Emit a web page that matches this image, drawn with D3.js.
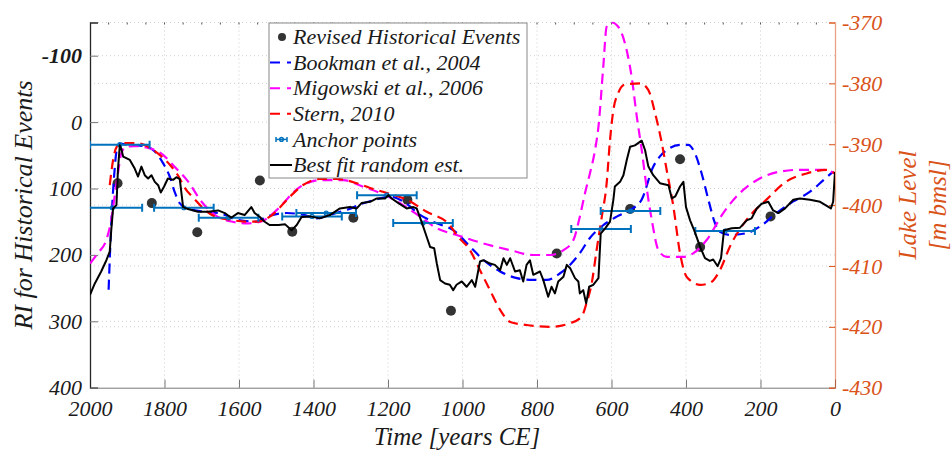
<!DOCTYPE html>
<html>
<head>
<meta charset="utf-8">
<script src="https://cdn.jsdelivr.net/npm/d3@7"></script>
<style>
  body { margin: 0; background: #fff; }
</style>
</head>
<body>
<script>
// ---- data ----
const xTicks = [2000, 1800, 1600, 1400, 1200, 1000, 800, 600, 400, 200, 0];
const riTicks = [-100, 0, 100, 200, 300, 400];
const lakeTicks = [-370, -380, -390, -400, -410, -420, -430];

// revised historical events [year, RI]
const events = [[1926, 92], [1834, 122], [1712, 166], [1544, 88], [1457, 165], [1293, 144],
  [1148, 117], [1031, 284], [747, 198], [550, 131], [416, 56], [362, 188], [173, 142]];

// anchor points [year, RI, half width in years]
const anchors = [[1920, 34, 80], [1940, 129, 80], [1748, 129, 80], [1628, 144, 80], [1404, 142, 80],
  [1366, 137, 80], [1203, 110, 80], [1106, 152, 80], [628, 161, 80], [549, 134, 80], [295, 164, 80]];

// lake level reconstructions [year, m bmsl]
const bookman = [[1950, -413.9], [1946, -407.4], [1941, -400.8], [1935, -395.0], [1928, -390.9], [1919, -389.9],
  [1898, -390.1], [1853, -390.3], [1826, -391.2], [1804, -393.1], [1786, -395.3], [1773, -397.8], [1759, -399.7],
  [1742, -400.5], [1705, -401.0], [1648, -401.4], [1606, -402.4], [1553, -402.7], [1526, -401.9], [1472, -401.3],
  [1427, -401.6], [1391, -402.2], [1356, -401.6], [1311, -400.8], [1266, -399.7], [1221, -398.9], [1195, -398.6],
  [1159, -399.4], [1114, -401.6], [1069, -403.0], [1025, -404.1], [980, -406.8], [944, -409.0], [899, -410.9],
  [854, -412.0], [810, -412.3], [774, -412.3], [738, -411.2], [711, -409.8], [685, -407.9], [658, -405.4],
  [622, -403.3], [586, -401.9], [550, -400.8], [519, -399.1], [488, -393.7], [470, -392.0], [443, -390.6],
  [416, -390.1], [394, -390.1], [376, -391.5], [358, -394.8], [340, -399.1], [322, -403.0], [309, -404.4],
  [282, -404.9], [237, -404.6], [201, -403.5], [157, -401.3], [112, -399.4], [67, -397.8], [31, -395.9], [5, -394.5]];

const migowski = [[2000, -409.6], [1979, -407.9], [1956, -405.7], [1943, -402.4], [1934, -398.6], [1925, -394.8],
  [1916, -391.5], [1903, -390.4], [1880, -390.3], [1844, -390.6], [1809, -391.5], [1773, -393.7], [1737, -396.1],
  [1701, -399.4], [1665, -401.6], [1620, -402.7], [1576, -403.0], [1540, -402.7], [1504, -401.1], [1436, -397.0],
  [1383, -395.9], [1320, -395.9], [1266, -397.0], [1221, -398.0], [1159, -400.0], [1114, -401.9], [1069, -403.8],
  [1016, -404.9], [944, -406.3], [872, -407.4], [810, -408.2], [765, -408.2], [729, -407.4], [702, -405.7],
  [685, -401.9], [671, -398.0], [658, -394.8], [644, -390.9], [635, -387.1], [622, -377.2], [613, -370.7],
  [599, -370.0], [582, -370.7], [564, -373.4], [546, -378.9], [532, -385.5], [519, -390.9], [506, -397.0],
  [492, -402.4], [474, -407.4], [452, -408.5], [407, -408.5], [380, -407.9], [344, -405.7], [300, -401.3],
  [255, -398.0], [201, -395.6], [148, -394.5], [94, -394.2], [31, -394.2], [0, -394.8]];

const stern = [[1947, -396.7], [1938, -392.6], [1928, -390.4], [1914, -389.8], [1893, -389.8], [1866, -389.9],
  [1839, -390.6], [1812, -391.8], [1785, -393.4], [1764, -395.1], [1745, -397.2], [1718, -399.1], [1691, -400.8],
  [1664, -401.9], [1624, -402.4], [1584, -402.7], [1549, -402.7], [1517, -401.9], [1463, -398.6], [1428, -396.7],
  [1383, -395.7], [1338, -395.7], [1284, -396.4], [1248, -397.2], [1203, -398.0], [1150, -399.1], [1096, -401.1],
  [1034, -403.3], [1016, -404.9], [980, -407.4], [953, -410.7], [926, -414.0], [899, -417.2], [872, -419.2],
  [828, -419.7], [765, -420.0], [711, -419.4], [680, -418.3], [667, -416.1], [653, -412.8], [640, -407.4],
  [626, -401.9], [613, -396.4], [604, -389.3], [595, -384.4], [582, -381.6], [564, -380.2], [523, -380.0],
  [501, -381.1], [483, -384.9], [465, -389.8], [452, -394.2], [434, -400.2], [416, -407.9], [398, -411.8],
  [362, -413.1], [336, -412.8], [309, -410.7], [282, -406.8], [237, -402.4], [184, -399.1], [130, -396.1],
  [76, -394.8], [23, -394.2], [0, -394.8]];

// best fit random estimate [year, RI]
const bestFit = [[2000, 260], [1987, 243], [1970, 225], [1956, 208], [1947, 195], [1943, 163], [1938, 130],
  [1929, 125], [1925, 72], [1920, 35], [1916, 40], [1911, 52], [1893, 57], [1880, 70], [1871, 82], [1862, 67],
  [1853, 80], [1844, 85], [1835, 80], [1826, 90], [1817, 95], [1810, 106], [1801, 97], [1791, 85], [1777, 87],
  [1768, 83], [1759, 86], [1750, 128], [1737, 131], [1710, 135], [1683, 135], [1656, 133], [1638, 137],
  [1621, 144], [1603, 137], [1585, 140], [1567, 128], [1558, 137], [1544, 143], [1531, 150], [1518, 155],
  [1504, 155], [1494, 155], [1476, 154], [1459, 163], [1445, 155], [1432, 143], [1409, 142], [1383, 145],
  [1356, 140], [1329, 130], [1302, 128], [1284, 130], [1271, 122], [1248, 120], [1230, 115], [1208, 115],
  [1199, 110], [1190, 115], [1172, 122], [1150, 130], [1132, 128], [1123, 130], [1110, 150], [1096, 173],
  [1087, 188], [1076, 190], [1069, 213], [1060, 238], [1047, 243], [1034, 245], [1025, 253], [1016, 245],
  [1002, 240], [989, 248], [975, 238], [966, 248], [953, 210], [944, 208], [926, 213], [913, 215], [899, 223],
  [890, 205], [881, 215], [872, 205], [859, 225], [846, 223], [837, 240], [828, 215], [819, 208], [810, 230],
  [792, 225], [783, 238], [770, 263], [761, 248], [752, 258], [743, 240], [729, 233], [720, 215], [711, 220],
  [698, 235], [689, 240], [685, 258], [676, 253], [668, 273], [660, 248], [649, 245], [635, 235], [629, 168],
  [617, 160], [604, 150], [595, 117], [591, 97], [577, 90], [568, 80], [559, 57], [550, 37], [537, 35],
  [519, 28], [510, 42], [501, 67], [488, 80], [470, 92], [447, 95], [438, 115], [429, 112], [416, 97],
  [407, 90], [400, 128], [389, 148], [378, 163], [362, 188], [349, 205], [336, 209], [327, 207], [315, 217],
  [306, 205], [298, 163], [277, 160], [255, 159], [237, 148], [224, 145], [210, 130], [197, 123], [179, 120],
  [166, 133], [152, 137], [134, 130], [112, 117], [94, 115], [67, 117], [40, 120], [11, 130], [5, 120], [0, 75]];

// ---- layout ----
const W = 951, H = 452;
const pLeft = 90, pRight = 835, pTop = 22.5, pBottom = 387.7;
const orange = "#D95319";
const serif = "'Liberation Serif', 'Times New Roman', serif";

const svg = d3.select("body").append("svg").attr("width", W).attr("height", H);

const x = d3.scaleLinear().domain([2000, 0]).range([pLeft, pRight]);
const yRI = d3.scaleLinear().domain([-150, 400]).range([pTop, pBottom]);
const yLake = d3.scaleLinear().domain([-370, -430]).range([pTop, pBottom]);

svg.append("clipPath").attr("id", "plot")
  .append("rect").attr("x", pLeft).attr("y", pTop - 1).attr("width", pRight - pLeft).attr("height", pBottom - pTop + 1);

// grid
const grid = svg.append("g").attr("stroke", "#cfcfcf").attr("stroke-width", 1).attr("stroke-dasharray", "1,3");
grid.selectAll(".gx").data(xTicks.slice(1, -1)).enter().append("line")
  .attr("x1", d => x(d)).attr("x2", d => x(d)).attr("y1", pTop).attr("y2", pBottom);
grid.selectAll(".gy").data(riTicks.slice(0, -1)).enter().append("line")
  .attr("x1", pLeft).attr("x2", pRight).attr("y1", d => yRI(d)).attr("y2", d => yRI(d));
grid.selectAll(".gr").data(lakeTicks.slice(1, -1)).enter().append("line")
  .attr("x1", pLeft).attr("x2", pRight).attr("y1", d => yLake(d)).attr("y2", d => yLake(d));
grid.append("line").attr("x1", pLeft).attr("x2", pRight).attr("y1", pTop).attr("y2", pTop);

// little top ticks every 50 years
svg.append("g").selectAll("line").data(d3.range(1950, 0, -50)).enter().append("line")
  .attr("x1", d => x(d)).attr("x2", d => x(d)).attr("y1", pTop).attr("y2", pTop + 2)
  .attr("stroke", "#555").attr("stroke-width", 1);

// axes
const fmt = d => String(d);
const gxAxis = svg.append("g").attr("transform", `translate(0,${pBottom})`)
  .call(d3.axisBottom(x).tickValues(xTicks).tickFormat(fmt).tickSize(-8).tickPadding(13));
gxAxis.select(".domain").attr("stroke", "#777");
gxAxis.selectAll(".tick line").attr("stroke", "#777");
gxAxis.selectAll("text").attr("font-size", 22).attr("fill", "#1a1a1a");

const gyAxis = svg.append("g").attr("transform", `translate(${pLeft},0)`)
  .call(d3.axisLeft(yRI).tickValues(riTicks).tickFormat(fmt).tickSize(-8).tickPadding(8));
gyAxis.select(".domain").attr("stroke", "#262626").attr("stroke-width", 1.3);
gyAxis.selectAll(".tick line").attr("stroke", "#777");
gyAxis.selectAll("text").attr("font-size", 22).attr("fill", "#1a1a1a")
  .attr("font-weight", d => d < 0 ? "bold" : "normal");

const grAxis = svg.append("g").attr("transform", `translate(${pRight},0)`)
  .call(d3.axisRight(yLake).tickValues(lakeTicks).tickFormat(fmt).tickSize(-6).tickPadding(7));
grAxis.select(".domain").attr("stroke", orange).attr("stroke-opacity", 0.55).attr("stroke-width", 1.3);
grAxis.selectAll(".tick line").attr("stroke", orange);
grAxis.selectAll("text").attr("font-size", 22).attr("fill", orange);

// axis titles
svg.append("text").attr("transform", "translate(32,205) rotate(-90)")
  .attr("text-anchor", "middle").attr("font-size", 26).attr("fill", "#1a1a1a")
  .text("RI for Historical Events");
svg.append("text").attr("x", 457).attr("y", 445).attr("text-anchor", "middle")
  .attr("font-size", 25).attr("fill", "#1a1a1a").text("Time [years CE]");
const lakeTitle = svg.append("text").attr("transform", "translate(916,205) rotate(-90)")
  .attr("text-anchor", "middle").attr("font-size", 25).attr("fill", orange);
lakeTitle.append("tspan").attr("x", 0).attr("dy", 0).text("Lake Level");
lakeTitle.append("tspan").attr("x", 0).attr("dy", 30).text("[m bmsl]");

// marks
const plot = svg.append("g").attr("clip-path", "url(#plot)");

plot.selectAll(".ev").data(events).enter().append("circle")
  .attr("cx", d => x(d[0])).attr("cy", d => yRI(d[1])).attr("r", 5).attr("fill", "#333");

const lakeLine = d3.line().x(d => x(d[0])).y(d => yLake(d[1])).curve(d3.curveMonotoneX);
const curves = [[bookman, "#0000ff"], [migowski, "#ff00ff"], [stern, "#ff0000"]];
curves.forEach(([data, c]) => {
  plot.append("path").datum(data).attr("d", lakeLine)
    .attr("fill", "none").attr("stroke", c).attr("stroke-width", 2.2).attr("stroke-dasharray", "10,6");
});

const anchorColor = "#0072BD";
const ag = plot.append("g").attr("stroke", anchorColor).attr("stroke-width", 2);
anchors.forEach(([yr, ri, hw]) => {
  const yy = yRI(ri), x0 = x(yr + hw), x1 = x(yr - hw);
  ag.append("line").attr("x1", x0).attr("x2", x1).attr("y1", yy).attr("y2", yy);
  ag.append("line").attr("x1", x0).attr("x2", x0).attr("y1", yy - 4).attr("y2", yy + 4);
  ag.append("line").attr("x1", x1).attr("x2", x1).attr("y1", yy - 4).attr("y2", yy + 4);
  ag.append("circle").attr("cx", x(yr)).attr("cy", yy).attr("r", 2).attr("fill", "none").attr("stroke-width", 1.2);
});

plot.append("path").datum(bestFit)
  .attr("d", d3.line().x(d => x(d[0])).y(d => yRI(d[1])))
  .attr("fill", "none").attr("stroke", "#000").attr("stroke-width", 2).attr("stroke-linejoin", "round");

// legend
const lg = svg.append("g");
lg.append("rect").attr("x", 269).attr("y", 23).attr("width", 258).attr("height", 155)
  .attr("fill", "#fff").attr("stroke", "#888").attr("stroke-width", 1);
const entries = ["Revised Historical Events", "Bookman et al., 2004", "Migowski et al., 2006",
  "Stern, 2010", "Anchor points", "Best fit random est."];
entries.forEach((t, i) => {
  const yy = 37 + i * 25.6;
  lg.append("text").attr("x", 293).attr("y", yy).attr("dy", "0.33em")
    .attr("font-size", 22).attr("fill", "#1a1a1a").text(t);
  if (i === 0) {
    lg.append("circle").attr("cx", 282).attr("cy", yy).attr("r", 4).attr("fill", "#333");
  } else if (i <= 3) {
    lg.append("line").attr("x1", 270).attr("x2", 291).attr("y1", yy).attr("y2", yy)
      .attr("stroke", curves[i - 1][1]).attr("stroke-width", 2).attr("stroke-dasharray", "10,7");
  } else if (i === 4) {
    const a = lg.append("g").attr("stroke", anchorColor).attr("stroke-width", 1.5);
    a.append("line").attr("x1", 276).attr("x2", 287).attr("y1", yy).attr("y2", yy);
    a.append("line").attr("x1", 276).attr("x2", 276).attr("y1", yy - 2.5).attr("y2", yy + 2.5);
    a.append("line").attr("x1", 287).attr("x2", 287).attr("y1", yy - 2.5).attr("y2", yy + 2.5);
    a.append("circle").attr("cx", 281.5).attr("cy", yy).attr("r", 1.8).attr("fill", "none");
  } else {
    lg.append("line").attr("x1", 270).attr("x2", 292).attr("y1", yy).attr("y2", yy)
      .attr("stroke", "#000").attr("stroke-width", 2);
  }
});

// serif italic for every label
svg.selectAll("text").style("font-family", serif).style("font-style", "italic");
</script>
</body>
</html>
